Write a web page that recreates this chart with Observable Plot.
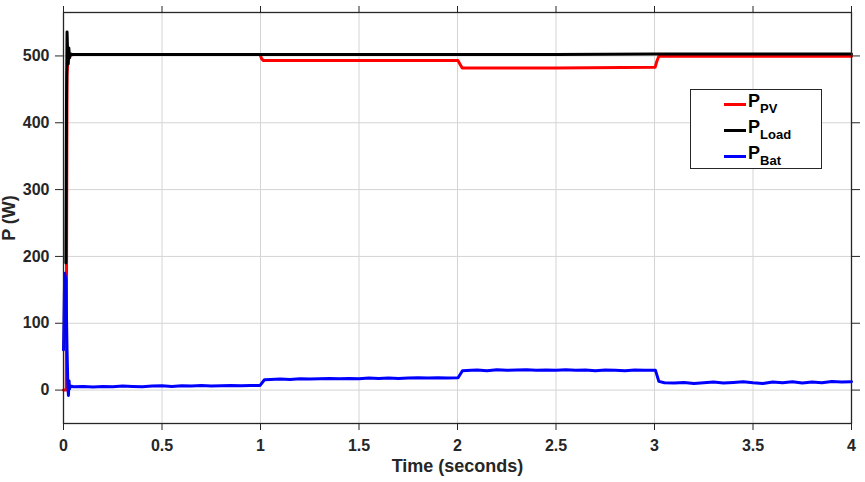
<!DOCTYPE html>
<html>
<head>
<meta charset="utf-8">
<script src="https://cdn.jsdelivr.net/npm/d3@7"></script>
<script src="https://cdn.jsdelivr.net/npm/@observablehq/plot@0.6"></script>
<style>
  body { margin: 0; background: #fff; }
  #wrap { position: relative; width: 865px; height: 482px; }
  #legend {
    position: absolute; left: 690px; top: 89px; width: 132px; height: 80px;
    border: 1px solid #262626; background: #fff; box-sizing: border-box;
    font-family: "Liberation Sans", Arial, sans-serif; font-weight: bold; color: #000;
  }
  .item { position: absolute; left: 33px; height: 20px; }
  .item .sw { position: absolute; left: 0; top: 9px; width: 22px; height: 3px; }
  .item .lbl { position: absolute; left: 24px; top: -3px; font-size: 18px; white-space: nowrap; }
  .item .lbl sub { font-size: 13px; vertical-align: -6px; }
</style>
</head>
<body>
<div id="wrap"></div>
<script>
const xTicks = [0, 0.5, 1, 1.5, 2, 2.5, 3, 3.5, 4];
const yTicks = [0, 100, 200, 300, 400, 500];
const seriesNames = ["P_PV", "P_Load", "P_Bat"];
const seriesColors = ["#ff0000", "#000000", "#0000ff"];

const pvTime  = [0, 0.014, 0.016, 0.018, 0.021, 0.025, 0.03, 0.05, 0.5, 0.998, 1.005, 1.015, 1.5, 2.003, 2.012, 2.024, 2.5, 3.003, 3.012, 3.022, 3.5, 4.0];
const pvPower = [0, 0, 250, 470, 488, 497, 501, 502, 502, 502, 496, 493, 493, 493, 488, 482, 482, 483, 492, 499.5, 499.5, 499.5];

const loadTime  = [0.012, 0.015, 0.018, 0.021, 0.024, 0.027, 0.031, 0.036, 0.05, 0.5, 1.0, 1.5, 2.0, 2.5, 3.0, 3.5, 4.0];
const loadPower = [190, 420, 536, 505, 488, 512, 497, 503, 502, 502, 502, 502, 502, 502, 503, 503, 503];

const batTime = [0, 0.006, 0.012, 0.018, 0.022, 0.025, 0.028, 0.031, 0.035, 0.05, 0.1, 0.15, 0.2, 0.25, 0.3, 0.35, 0.4, 0.45, 0.5, 0.55, 0.6, 0.65, 0.7, 0.75, 0.8, 0.85, 0.9, 0.95, 0.998,
  1.02, 1.05, 1.1, 1.15, 1.2, 1.25, 1.3, 1.35, 1.4, 1.45, 1.5, 1.55, 1.6, 1.65, 1.7, 1.75, 1.8, 1.85, 1.9, 1.95, 2.003,
  2.025, 2.07, 2.1, 2.15, 2.2, 2.25, 2.3, 2.35, 2.4, 2.45, 2.5, 2.55, 2.6, 2.65, 2.7, 2.75, 2.8, 2.85, 2.9, 2.95, 3.005,
  3.022, 3.05, 3.1, 3.15, 3.2, 3.25, 3.3, 3.35, 3.4, 3.45, 3.5, 3.55, 3.6, 3.65, 3.7, 3.75, 3.8, 3.85, 3.9, 3.95, 4.0];
const batPower = [60, 175, 165, 60, 8, -8, 14, 2, 6, 5, 5.5, 4.5, 5.5, 5, 6, 5.5, 5, 6, 6.5, 5.5, 6.5, 6, 7, 6, 6.5, 7, 6.5, 7, 7,
  15.5, 16, 16.5, 16, 17, 16.5, 17, 17.5, 17, 17.5, 17, 18, 17.5, 18, 17.5, 18, 18.5, 18, 18.5, 18, 18.5,
  29, 29.5, 30, 29, 30.5, 29.5, 30, 30.5, 29.5, 30, 29.5, 30.5, 29.5, 30, 29, 30, 29.5, 29, 30, 29.5, 29.5,
  13, 11, 10.5, 11.5, 10, 11, 12, 10.5, 11.5, 12.5, 11, 10, 12, 11, 12.5, 10.5, 12, 11, 13, 12, 12.5];

const rows = [
  ...pvTime.map((t, i) => ({t, p: pvPower[i], s: seriesNames[0]})),
  ...loadTime.map((t, i) => ({t, p: loadPower[i], s: seriesNames[1]})),
  ...batTime.map((t, i) => ({t, p: batPower[i], s: seriesNames[2]}))
];

const chart = Plot.plot({
  width: 865,
  height: 482,
  marginLeft: 63,
  marginRight: 14,
  marginTop: 12,
  marginBottom: 59,
  style: {fontFamily: "'Liberation Sans', Arial, sans-serif", fontSize: "16px", fontWeight: "bold", color: "#262626", background: "#fff"},
  x: {domain: [0, 4]},
  y: {domain: [-50, 565]},
  color: {domain: seriesNames, range: seriesColors},
  marks: [
    Plot.gridX(xTicks, {stroke: "#d4d4d4", strokeOpacity: 1}),
    Plot.gridY(yTicks, {stroke: "#d4d4d4", strokeOpacity: 1}),
    Plot.line(rows, {x: "t", y: "p", z: "s", stroke: "s", strokeWidth: 3, curve: "linear"}),
    Plot.frame({stroke: "#262626", strokeWidth: 1.3}),
    Plot.axisX(xTicks, {tickSize: 7, tickPadding: 9, tickFormat: d => String(d), label: "Time (seconds)", labelAnchor: "center", labelArrow: "none", labelOffset: 48, fontSize: 16}),
    Plot.axisX(xTicks, {anchor: "top", tickSize: 7, tickFormat: () => "", label: null}),
    Plot.axisY(yTicks, {tickSize: 8, tickPadding: 6, tickFormat: d => String(d), label: "P (W)", labelAnchor: "center", labelArrow: "none", labelOffset: 61, fontSize: 16}),
    Plot.axisY(yTicks, {anchor: "right", tickSize: 8, tickFormat: () => "", label: null})
  ]
});

const wrap = document.getElementById("wrap");
wrap.appendChild(chart);
chart.querySelectorAll("g[aria-label='x-axis label'] text, g[aria-label='y-axis label'] text").forEach(t => t.setAttribute("font-size", "18"));

const legend = document.createElement("div");
legend.id = "legend";
const labels = [["P", "PV"], ["P", "Load"], ["P", "Bat"]];
labels.forEach((l, i) => {
  const it = document.createElement("div");
  it.className = "item";
  it.style.top = (4 + i * 26) + "px";
  it.innerHTML = `<div class="sw" style="background:${seriesColors[i]}"></div><div class="lbl">${l[0]}<sub>${l[1]}</sub></div>`;
  legend.appendChild(it);
});
wrap.appendChild(legend);
</script>
</body>
</html>
